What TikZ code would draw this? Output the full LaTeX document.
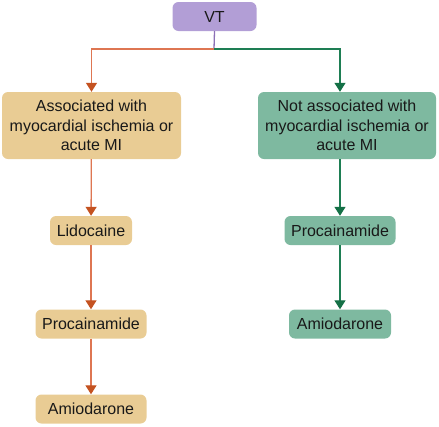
\documentclass[tikz,border=0pt]{standalone}
\usepackage{fontspec}
\setmainfont{Liberation Sans}
\usetikzlibrary{arrows.meta}

\definecolor{vtfill}{RGB}{178,158,214}
\definecolor{vtline}{RGB}{140,112,182}
\definecolor{tanfill}{RGB}{233,204,148}
\definecolor{orline}{RGB}{222,118,82}
\definecolor{orhead}{RGB}{196,82,32}
\definecolor{grfill}{RGB}{126,185,160}
\definecolor{grline}{RGB}{30,126,84}
\definecolor{grhead}{RGB}{20,112,70}

\tikzset{
  box/.style={rounded corners=6pt, align=center, text=black!90,
    font=\fontsize{16}{19.5}\selectfont, inner sep=0pt},
  tanbox/.style={box, fill=tanfill},
  grbox/.style={box, fill=grfill},
  orarrow/.style={orline, line width=1.3pt, -{Triangle[width=11pt,length=9pt,color=orhead]}},
  grarrow/.style={grline, line width=1.3pt, -{Triangle[width=11pt,length=9pt,color=grhead]}},
}

\begin{document}
\begin{tikzpicture}[x=1pt,y=-1pt]
        \useasboundingbox (0,0) rectangle (439,426);

        % 最上段
        \node[box, fill=vtfill, minimum width=84pt, minimum height=29pt] (vt) at (214.5,16.5) {VT};
        \coordinate (split) at (214,49);

        % 左の列
        \node[tanbox, minimum width=179pt, minimum height=67pt] (assoc) at (91.5,125.5)
          {Associated with\\myocardial ischemia or\\acute MI};
        \node[tanbox, minimum width=82pt, minimum height=29pt] (lido) at (91,230.5) {Lidocaine};
        \node[tanbox, minimum width=111pt, minimum height=29pt] (lproc) at (91,324) {Procainamide};
        \node[tanbox, minimum width=111pt, minimum height=29pt] (lamio) at (91,409) {Amiodarone};

        % 右の列
        \node[grbox, minimum width=178pt, minimum height=67pt] (notassoc) at (347,125.5)
          {Not associated with\\myocardial ischemia or\\acute MI};
        \node[grbox, minimum width=111pt, minimum height=29pt] (rproc) at (340,230.5) {Procainamide};
        \node[grbox, minimum width=102pt, minimum height=29pt] (ramio) at (340,324) {Amiodarone};

        % 矢印
        \draw[vtline, line width=1.3pt] (vt.south) -- (split);
        \draw[orarrow] (split) -| (assoc.north);
        \draw[grarrow] (split) -| (notassoc.north -| rproc.north);
        \draw[orarrow] (assoc) -- (lido);
        \draw[orarrow] (lido) -- (lproc);
        \draw[orarrow] (lproc) -- (lamio);
        \draw[grarrow] (notassoc.south -| rproc.north) -- (rproc);
        \draw[grarrow] (rproc) -- (ramio);
      \end{tikzpicture}
\end{document}
